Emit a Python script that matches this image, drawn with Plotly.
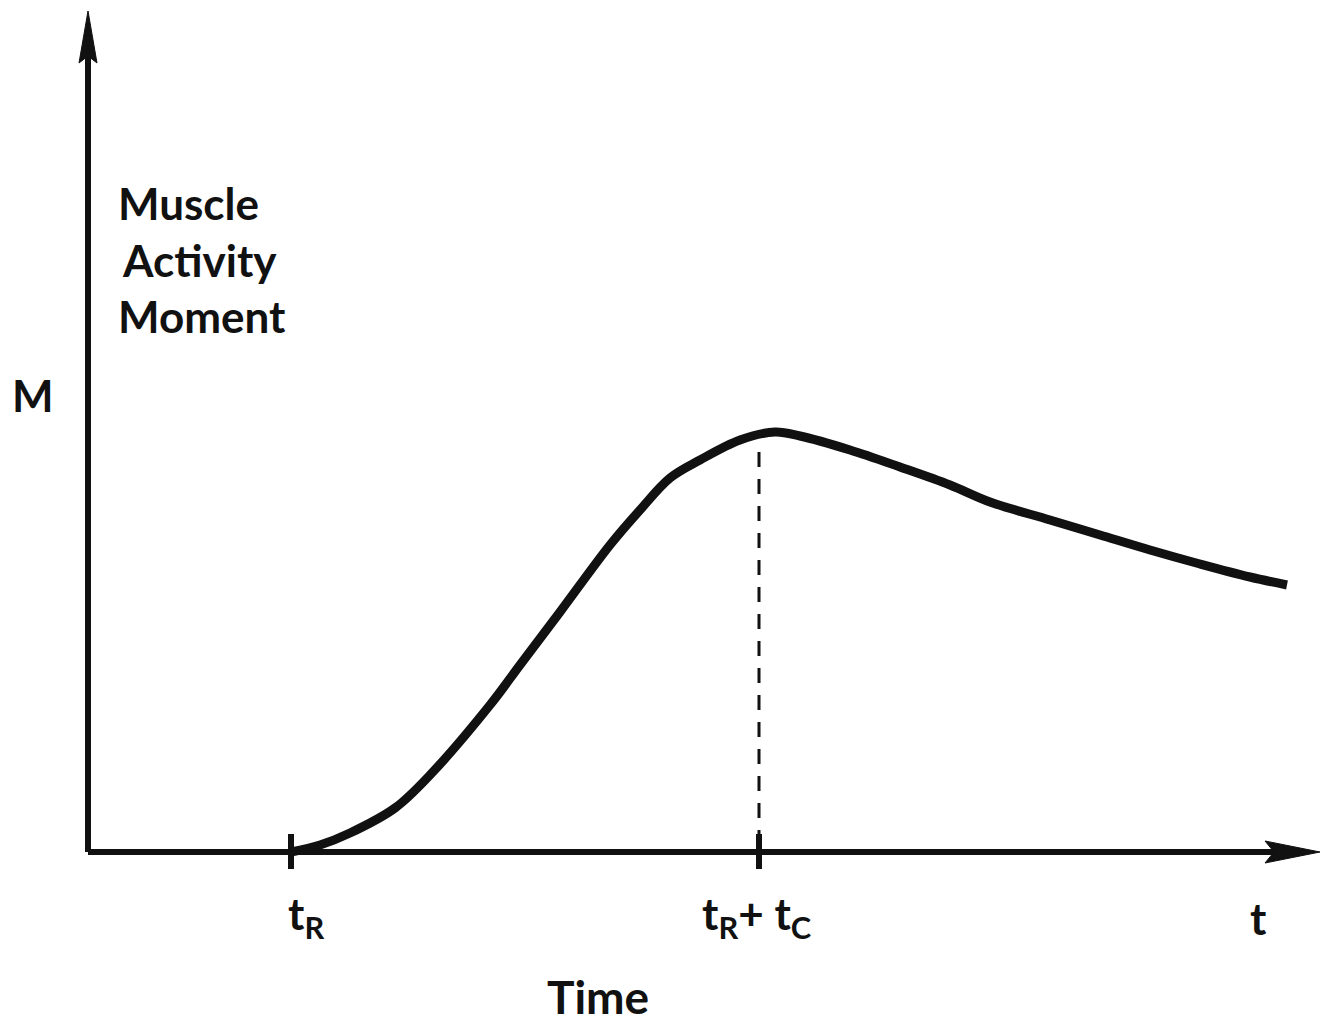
import plotly.graph_objects as go

# Data (time units, moment units)
t_curve = [2.03, 2.32, 2.62, 3.07, 3.42, 4.02, 4.32, 4.72, 5.22, 5.52, 5.82, 6.12,
           6.52, 6.87, 7.12, 7.62, 8.12, 8.62, 9.02, 9.62, 10.12, 10.62, 11.12, 11.62, 11.99]
m_curve = [0.0, 0.07, 0.19, 0.44, 0.77, 1.47, 1.87, 2.40, 3.07, 3.42, 3.74, 3.92,
           4.12, 4.20, 4.16, 4.02, 3.85, 3.67, 3.50, 3.32, 3.17, 3.02, 2.88, 2.75, 2.67]
t_R = 2.03
t_peak = 6.71
m_peak = 4.20
x_axis_end = 12.32
y_axis_end = 8.41
tick_labels = ["t<sub>R</sub>", "t<sub>R</sub>+ t<sub>C</sub>", "t"]

FONT = "Lato"
ink = "#111111"

fig = go.Figure()

# axes lines
fig.add_trace(go.Scatter(x=[0, x_axis_end - 0.45], y=[0, 0], mode="lines",
                         line=dict(color=ink, width=6), hoverinfo="skip"))
fig.add_trace(go.Scatter(x=[0, 0], y=[0, y_axis_end - 0.45], mode="lines",
                         line=dict(color=ink, width=6), hoverinfo="skip"))

# arrowheads (filled)
hx = x_axis_end
fig.add_trace(go.Scatter(x=[hx, hx - 0.55, hx - 0.46, hx - 0.55, hx],
                         y=[0, 0.11, 0, -0.11, 0], mode="lines", fill="toself",
                         fillcolor=ink, line=dict(color=ink, width=1), hoverinfo="skip"))
hy = y_axis_end
fig.add_trace(go.Scatter(x=[0, 0.09, 0, -0.09, 0],
                         y=[hy, hy - 0.52, hy - 0.45, hy - 0.52, hy], mode="lines", fill="toself",
                         fillcolor=ink, line=dict(color=ink, width=1), hoverinfo="skip"))

# dashed line at peak
fig.add_trace(go.Scatter(x=[t_peak, t_peak], y=[0.07, m_peak - 0.13], mode="lines",
                         line=dict(color=ink, width=3, dash="15px,12px"), hoverinfo="skip"))

# tick marks
for tx in [t_R, t_peak]:
    fig.add_trace(go.Scatter(x=[tx, tx], y=[-0.17, 0.18], mode="lines",
                             line=dict(color=ink, width=6), hoverinfo="skip"))

# curve
fig.add_trace(go.Scatter(x=t_curve, y=m_curve, mode="lines", line_shape="spline",
                         line=dict(color=ink, width=9), hoverinfo="skip"))

ann = []

def txt(x, y, s, size=44, xanchor="left"):
    ann.append(dict(x=x, y=y, xref="x", yref="y", text=s, showarrow=False,
                    xanchor=xanchor, yanchor="middle",
                    font=dict(family=FONT, size=size, color=ink, weight="bold")))

txt(0.28, 6.49, "Muscle")
txt(0.32, 5.92, "Activity")
txt(0.28, 5.36, "Moment")
txt(-0.78, 4.57, "M")
txt(t_R + 0.15, -0.64, tick_labels[0], xanchor="center")
txt(t_peak - 0.03, -0.64, tick_labels[1], xanchor="center")
txt(11.70, -0.66, tick_labels[2], xanchor="center")
txt(5.10, -1.44, "Time", size=46, xanchor="center")

fig.update_layout(
    width=1324, height=1015,
    margin=dict(l=0, r=0, t=0, b=0),
    paper_bgcolor="white", plot_bgcolor="white",
    showlegend=False,
    annotations=ann,
    xaxis=dict(range=[-0.80, 12.44], visible=False, fixedrange=True),
    yaxis=dict(range=[-1.71, 8.44], visible=False, fixedrange=True),
)

fig.write_html("out.html")
